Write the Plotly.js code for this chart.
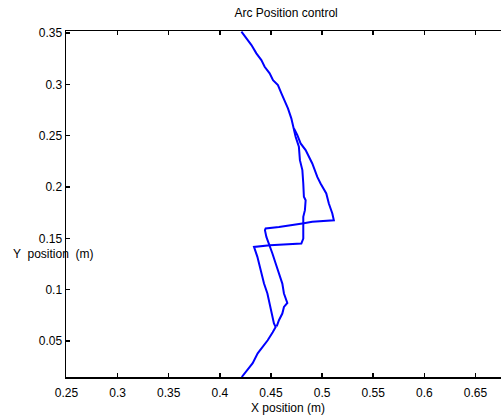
<!DOCTYPE html>
<html>
<head>
<meta charset="utf-8">
<script src="https://cdn.plot.ly/plotly-3.0.1.min.js"></script>
<style>html,body{margin:0;padding:0;background:#fff;}#chart{width:501px;height:416px;}</style>
</head>
<body>
<div id="chart"></div>
<script>
// Outbound path: start at bottom, up the inner branch, lower step, vertical, arc to top
const outX = [0.4214, 0.4321, 0.4370, 0.4468, 0.4517, 0.4546,
  0.4529, 0.4507, 0.4490, 0.4465, 0.4432, 0.4399, 0.4367, 0.4334,
  0.4399, 0.4490, 0.4797, 0.4816, 0.4816, 0.4832, 0.4839, 0.4822,
  0.4816, 0.4807, 0.4783, 0.4773, 0.4741, 0.4725,
  0.4699, 0.4666, 0.4634, 0.4602, 0.4568, 0.4520, 0.4487, 0.4438,
  0.4406, 0.4357, 0.4309, 0.4260, 0.4211];
const outY = [0.0150, 0.0284, 0.0381, 0.0508, 0.0586, 0.0637,
  0.0671, 0.0768, 0.0866, 0.0963, 0.1060, 0.1190, 0.1320, 0.1417,
  0.1427, 0.1434, 0.1450, 0.1499, 0.1710, 0.1775, 0.1872, 0.1905,
  0.2035, 0.2165, 0.2262, 0.2392, 0.2489, 0.2571,
  0.2669, 0.2766, 0.2847, 0.2912, 0.2993, 0.3042, 0.3107, 0.3172,
  0.3237, 0.3302, 0.3383, 0.3448, 0.3513];
// Return path: from the merge point down the outer side, upper step, outer lower branch back to the junction
const retX = [0.4725, 0.4758, 0.4790, 0.4839, 0.4904, 0.4953, 0.4985,
  0.5041, 0.5066, 0.5100, 0.5115, 0.4904, 0.4807, 0.4709, 0.4578,
  0.4448, 0.4441, 0.4455, 0.4480, 0.4514, 0.4546, 0.4578, 0.4611,
  0.4627, 0.4660, 0.4627, 0.4611, 0.4578, 0.4556];
const retY = [0.2571, 0.2506, 0.2425, 0.2360, 0.2230, 0.2099, 0.2035,
  0.1938, 0.1840, 0.1743, 0.1677, 0.1661, 0.1645, 0.1629, 0.1612,
  0.1597, 0.1580, 0.1515, 0.1450, 0.1353, 0.1255, 0.1158, 0.1060,
  0.0963, 0.0871, 0.0832, 0.0768, 0.0703, 0.0644];

const xTicks = [0.25, 0.3, 0.35, 0.4, 0.45, 0.5, 0.55, 0.6, 0.65];
const xTickText = ['0.25', '0.3', '0.35', '0.4', '0.45', '0.5', '0.55', '0.6', '0.65'];
const yTicks = [0.05, 0.1, 0.15, 0.2, 0.25, 0.3, 0.35];
const yTickText = ['0.05', '0.1', '0.15', '0.2', '0.25', '0.3', '0.35'];

const font = {family: 'Liberation Sans, Arial, sans-serif', size: 12, color: '#000'};
const lineStyle = {color: '#0000ff', width: 2};

const traces = [
  {x: outX, y: outY, mode: 'lines', line: lineStyle, hoverinfo: 'none', showlegend: false},
  {x: retX, y: retY, mode: 'lines', line: lineStyle, hoverinfo: 'none', showlegend: false}
];

const layout = {
  width: 501, height: 416,
  margin: {l: 66, r: 0, t: 31, b: 39, pad: 0},
  paper_bgcolor: '#fff', plot_bgcolor: '#fff',
  font: font,
  showlegend: false,
  title: {text: 'Arc Position control', font: font, xref: 'paper', x: 0.506, xanchor: 'center',
          yref: 'container', y: 1 - 13/416, yanchor: 'middle'},
  xaxis: {
    range: [0.2495, 0.675], tickvals: xTicks, ticktext: xTickText,
    ticks: 'inside', ticklen: 4, tickcolor: '#000', tickwidth: 1.5,
    showline: true, linecolor: '#000', linewidth: 1.5, mirror: 'ticks',
    showgrid: false, zeroline: false, tickfont: font, ticklabelstandoff: 4
  },
  yaxis: {
    range: [0.015, 0.352], tickvals: yTicks, ticktext: yTickText,
    ticks: 'inside', ticklen: 4, tickcolor: '#000', tickwidth: 1.5,
    showline: true, linecolor: '#000', linewidth: 1.5, mirror: false,
    showgrid: false, zeroline: false, tickfont: font
  },
  annotations: [{
    text: 'Y  position  (m)', xref: 'paper', yref: 'paper',
    x: (53 - 66) / 435, y: (377 - 254) / 346, xanchor: 'center', yanchor: 'middle',
    showarrow: false, font: font
  }, {
    text: 'X position (m)', xref: 'paper', yref: 'paper',
    x: (287.5 - 66) / 435, y: (377 - 408) / 346, xanchor: 'center', yanchor: 'middle',
    showarrow: false, font: font
  }]
};

Plotly.newPlot('chart', traces, layout, {staticPlot: true, displayModeBar: false});
</script>
</body>
</html>
